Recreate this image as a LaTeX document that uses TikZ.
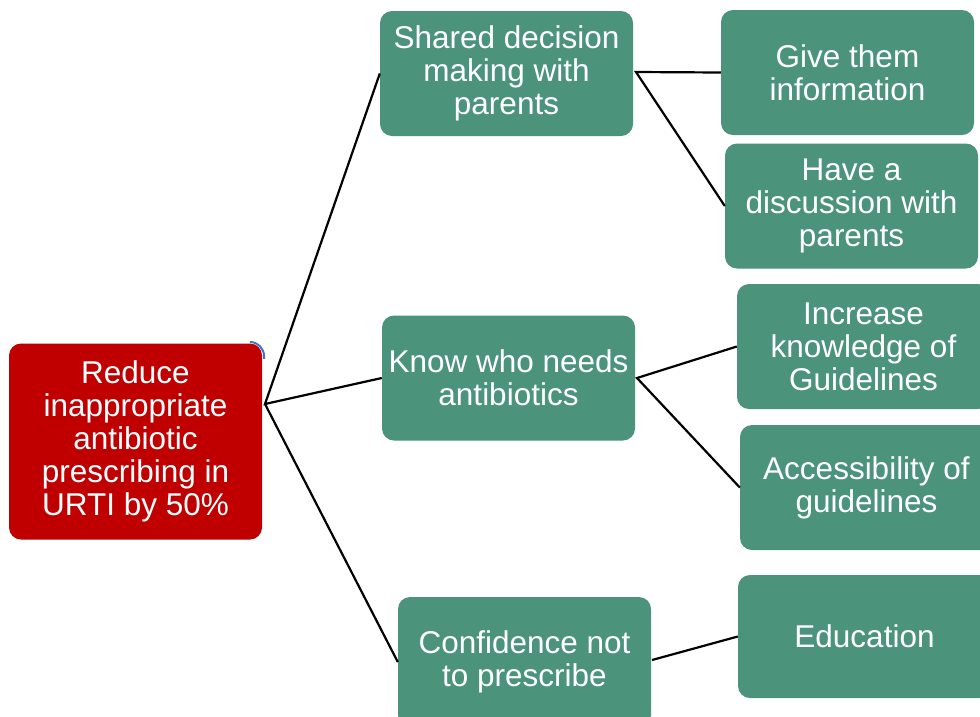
\documentclass[tikz,border=0pt]{standalone}
\usepackage{fontspec}
\setmainfont{Liberation Sans}
\definecolor{tgreen}{RGB}{75,147,123}
\definecolor{tred}{RGB}{192,0,0}
\definecolor{tblue}{RGB}{68,114,196}
\begin{document}
\begin{tikzpicture}[x=1pt,y=-1pt,
  box/.style={rounded corners=12pt, fill=tgreen, text=white, align=center,
    minimum width=253pt, minimum height=125pt, inner sep=0pt,
    font=\fontsize{31.5}{33}\selectfont},
  goal/.style={box, fill=tred, minimum height=196pt},
  link/.style={draw=black, line width=2.2pt}]
\clip (0,0) rectangle (980,716);
\fill[white] (0,0) rectangle (980,716);
% faint blue corner behind the red box
\begin{scope}
  \clip (250,335) rectangle (272,358);
  \draw[tblue, line width=2pt, rounded corners=14pt] (12,342) rectangle (264,537);
\end{scope}
\node[goal] (red) at (135.5,441.5) {Reduce\\inappropriate\\antibiotic\\prescribing in\\URTI by 50\%};
\node[box] (shared) at (506.5,73.5) {Shared decision\\making with\\parents};
\node[box] (give) at (847.5,72.5) {Give them\\information};
\node[box] (have) at (851.5,206) {Have a\\discussion with\\parents};
\node[box] (know) at (508.5,378) {Know who needs\\antibiotics};
\node[box] (incr) at (863.5,346.5) {Increase\\knowledge of\\Guidelines};
\node[box] (acc) at (866.5,487.5) {Accessibility of\\guidelines};
\node[box, minimum height=130pt] (conf) at (524.5,662) {Confidence not\\to prescribe};
\node[box, minimum height=123pt] (edu) at (864.5,636.5) {Education};
\coordinate (rf) at (265,404);
\coordinate (sf) at (636,72);
\coordinate (kf) at (637,378);
\coordinate (cf) at (652,660);
\draw[link] (shared.west) -- (rf) -- (know.west);
\draw[link] (rf) -- (conf.west);
\draw[link] (give.west) -- (sf) -- (have.west);
\draw[link] (incr.west) -- (kf) -- (acc.west);
\draw[link] (cf) -- (edu.west);
\end{tikzpicture}
\end{document}
